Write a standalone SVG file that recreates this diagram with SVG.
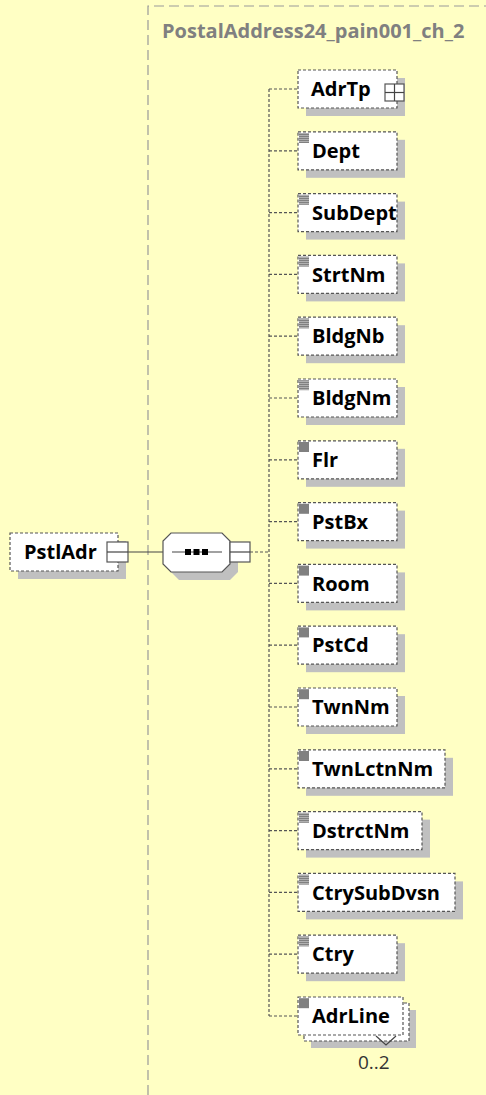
<svg xmlns="http://www.w3.org/2000/svg" width="486" height="1095" viewBox="0 0 486 1095">
<style>
.bg{fill:#FFFFC4}
.frame{fill:none;stroke:#999;stroke-width:1.2;stroke-dasharray:10 5}
.shadow{fill:#C0C0C0}
.box{fill:#fff;stroke:#555;stroke-width:1.2;stroke-dasharray:3 2}
.solid{fill:#fff;stroke:#555;stroke-width:1.2}
.lbl{font-family:"Open Sans","Liberation Sans",sans-serif;font-weight:bold;font-size:20px;fill:#000}
.title{font-family:"Open Sans","Liberation Sans",sans-serif;font-weight:bold;font-size:20px;fill:#808080}
.card{font-family:"Open Sans","Liberation Sans",sans-serif;font-size:19px;fill:#333}
.dot{fill:none;stroke:#555;stroke-width:1.2;stroke-dasharray:3 2}
.line{fill:none;stroke:#444;stroke-width:1.2}
.mk{fill:#808080}
.mks{fill:url(#stripes)}
</style>
<defs>
<pattern id="stripes" width="10" height="2" patternUnits="userSpaceOnUse">
<rect width="10" height="2" fill="#808080"/>
<rect y="1" width="10" height="1" fill="#B0B0B0"/>
</pattern>
</defs>
<rect class="bg" x="0" y="0" width="486" height="1095"/>
<path class="frame" d="M148,1095 V6 H486"/>
<text class="title" x="162" y="38">PostalAddress24_pain001_ch_2</text>

<g id="connectors">
<line class="line" x1="128" y1="552" x2="163" y2="552"/>
<line class="dot" x1="250" y1="552" x2="269" y2="552"/>
<line class="dot" x1="269" y1="89" x2="269" y2="1016"/>
<line class="dot" x1="269" y1="89" x2="298" y2="89"/>
<line class="dot" x1="269" y1="150.8" x2="298" y2="150.8"/>
<line class="dot" x1="269" y1="212.6" x2="298" y2="212.6"/>
<line class="dot" x1="269" y1="274.4" x2="298" y2="274.4"/>
<line class="dot" x1="269" y1="336.2" x2="298" y2="336.2"/>
<line class="dot" x1="269" y1="398" x2="298" y2="398"/>
<line class="dot" x1="269" y1="459.8" x2="298" y2="459.8"/>
<line class="dot" x1="269" y1="521.6" x2="298" y2="521.6"/>
<line class="dot" x1="269" y1="583.4" x2="298" y2="583.4"/>
<line class="dot" x1="269" y1="645.2" x2="298" y2="645.2"/>
<line class="dot" x1="269" y1="707" x2="298" y2="707"/>
<line class="dot" x1="269" y1="768.8" x2="298" y2="768.8"/>
<line class="dot" x1="269" y1="830.6" x2="298" y2="830.6"/>
<line class="dot" x1="269" y1="892.4" x2="298" y2="892.4"/>
<line class="dot" x1="269" y1="954.2" x2="298" y2="954.2"/>
<line class="dot" x1="269" y1="1016" x2="298" y2="1016"/>
</g>

<g id="PstlAdr">
<rect class="shadow" x="18" y="541" width="108" height="38"/>
<rect class="box" x="10" y="533" width="108" height="38"/>
<text class="lbl" x="24" y="559">PstlAdr</text>
<rect class="solid" x="107" y="542" width="21" height="20"/>
<line class="line" x1="107" y1="552" x2="128" y2="552"/>
</g>

<g id="sequence">
<polygon class="shadow" points="179,541 230,541 238,549 238,572 230,580 179,580 171,572 171,549"/>
<polygon class="solid" points="171,533 222,533 230,541 230,564 222,572 171,572 163,564 163,541"/>
<line class="line" x1="172" y1="552" x2="222" y2="552"/>
<rect x="185" y="549" width="6" height="6" fill="#000"/>
<rect x="193.5" y="549" width="6" height="6" fill="#000"/>
<rect x="202" y="549" width="6" height="6" fill="#000"/>
<rect class="solid" x="230" y="542" width="20" height="20"/>
<line class="line" x1="230" y1="552" x2="250" y2="552"/>
</g>

<g id="AdrTp">
<rect class="shadow" x="306" y="78" width="99" height="38"/>
<rect class="box" x="298" y="70" width="99" height="38"/>
<text class="lbl" x="311" y="96">AdrTp</text>
<rect class="solid" x="385" y="84" width="19" height="17"/>
<line class="line" x1="385" y1="92.5" x2="404" y2="92.5"/>
<line class="line" x1="394.5" y1="84" x2="394.5" y2="101"/>
</g>

<g id="Dept">
<rect class="shadow" x="306" y="139.8" width="99" height="38"/>
<rect class="box" x="298" y="131.8" width="99" height="38"/>
<rect class="mks" x="299" y="133" width="10" height="10"/>
<text class="lbl" x="312" y="158">Dept</text>
</g>

<g id="SubDept">
<rect class="shadow" x="306" y="201.6" width="99" height="38"/>
<rect class="box" x="298" y="193.6" width="99" height="38"/>
<rect class="mks" x="299" y="194.8" width="10" height="10"/>
<text class="lbl" x="312" y="219.8">SubDept</text>
</g>

<g id="StrtNm">
<rect class="shadow" x="306" y="263.4" width="99" height="38"/>
<rect class="box" x="298" y="255.4" width="99" height="38"/>
<rect class="mks" x="299" y="256.6" width="10" height="10"/>
<text class="lbl" x="312" y="281.6">StrtNm</text>
</g>

<g id="BldgNb">
<rect class="shadow" x="306" y="325.2" width="99" height="38"/>
<rect class="box" x="298" y="317.2" width="99" height="38"/>
<rect class="mks" x="299" y="318.4" width="10" height="10"/>
<text class="lbl" x="312" y="343.4">BldgNb</text>
</g>

<g id="BldgNm">
<rect class="shadow" x="306" y="387" width="99" height="38"/>
<rect class="box" x="298" y="379" width="99" height="38"/>
<rect class="mks" x="299" y="380.2" width="10" height="10"/>
<text class="lbl" x="312" y="405.2">BldgNm</text>
</g>

<g id="Flr">
<rect class="shadow" x="306" y="448.8" width="99" height="38"/>
<rect class="box" x="298" y="440.8" width="99" height="38"/>
<rect class="mk" x="299" y="442" width="10" height="10"/>
<text class="lbl" x="312" y="467">Flr</text>
</g>

<g id="PstBx">
<rect class="shadow" x="306" y="510.6" width="99" height="38"/>
<rect class="box" x="298" y="502.6" width="99" height="38"/>
<rect class="mk" x="299" y="503.8" width="10" height="10"/>
<text class="lbl" x="312" y="528.8">PstBx</text>
</g>

<g id="Room">
<rect class="shadow" x="306" y="572.4" width="99" height="38"/>
<rect class="box" x="298" y="564.4" width="99" height="38"/>
<rect class="mk" x="299" y="565.6" width="10" height="10"/>
<text class="lbl" x="312" y="590.6">Room</text>
</g>

<g id="PstCd">
<rect class="shadow" x="306" y="634.2" width="99" height="38"/>
<rect class="box" x="298" y="626.2" width="99" height="38"/>
<rect class="mk" x="299" y="627.4" width="10" height="10"/>
<text class="lbl" x="312" y="652.4">PstCd</text>
</g>

<g id="TwnNm">
<rect class="shadow" x="306" y="696" width="99" height="38"/>
<rect class="box" x="298" y="688" width="99" height="38"/>
<rect class="mk" x="299" y="689.2" width="10" height="10"/>
<text class="lbl" x="312" y="714.2">TwnNm</text>
</g>

<g id="TwnLctnNm">
<rect class="shadow" x="306" y="757.8" width="147" height="38"/>
<rect class="box" x="298" y="749.8" width="147" height="38"/>
<rect class="mk" x="299" y="751" width="10" height="10"/>
<text class="lbl" x="312" y="776">TwnLctnNm</text>
</g>

<g id="DstrctNm">
<rect class="shadow" x="306" y="819.6" width="124" height="38"/>
<rect class="box" x="298" y="811.6" width="124" height="38"/>
<rect class="mks" x="299" y="812.8" width="10" height="10"/>
<text class="lbl" x="312" y="837.8">DstrctNm</text>
</g>

<g id="CtrySubDvsn">
<rect class="shadow" x="306" y="881.4" width="157" height="38"/>
<rect class="box" x="298" y="873.4" width="157" height="38"/>
<rect class="mks" x="299" y="874.6" width="10" height="10"/>
<text class="lbl" x="312" y="899.6">CtrySubDvsn</text>
</g>

<g id="Ctry">
<rect class="shadow" x="306" y="943.2" width="99" height="38"/>
<rect class="box" x="298" y="935.2" width="99" height="38"/>
<rect class="mks" x="299" y="936.4" width="10" height="10"/>
<text class="lbl" x="312" y="961.4">Ctry</text>
</g>

<g id="AdrLine">
<rect class="shadow" x="311" y="1010" width="105" height="38"/>
<rect class="box" x="304" y="1003" width="105" height="38"/>
<rect class="box" x="298" y="997" width="105" height="38"/>
<rect class="mk" x="299" y="998.2" width="10" height="10"/>
<text class="lbl" x="312" y="1023.2">AdrLine</text>
<polyline class="line" points="376,1036 386,1045 396,1036"/>
<text class="card" x="358" y="1069">0..2</text>
</g>
</svg>
